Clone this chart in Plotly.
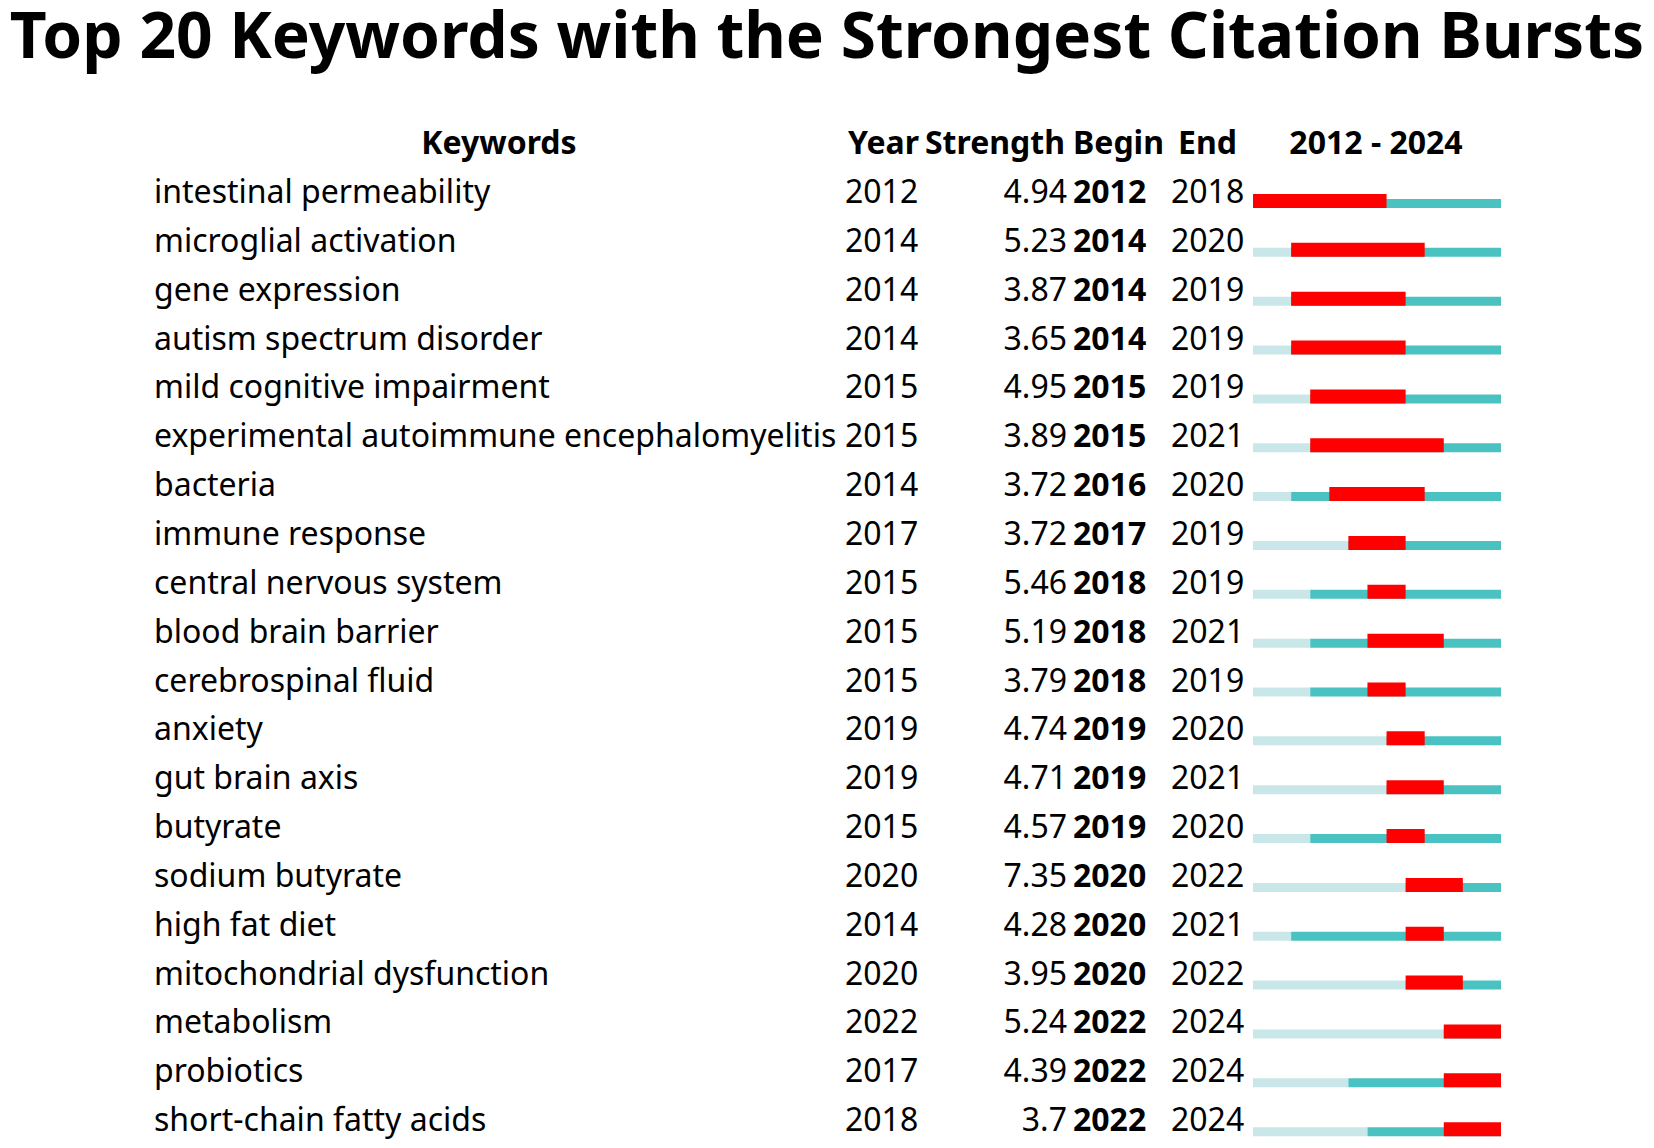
import plotly.graph_objects as go

# burst table data
keywords = [
    "intestinal permeability", "microglial activation", "gene expression",
    "autism spectrum disorder", "mild cognitive impairment",
    "experimental autoimmune encephalomyelitis", "bacteria", "immune response",
    "central nervous system", "blood brain barrier", "cerebrospinal fluid",
    "anxiety", "gut brain axis", "butyrate", "sodium butyrate", "high fat diet",
    "mitochondrial dysfunction", "metabolism", "probiotics", "short-chain fatty acids",
]
years = [2012, 2014, 2014, 2014, 2015, 2015, 2014, 2017, 2015, 2015,
         2015, 2019, 2019, 2015, 2020, 2014, 2020, 2022, 2017, 2018]
strengths = [4.94, 5.23, 3.87, 3.65, 4.95, 3.89, 3.72, 3.72, 5.46, 5.19,
             3.79, 4.74, 4.71, 4.57, 7.35, 4.28, 3.95, 5.24, 4.39, 3.7]
begins = [2012, 2014, 2014, 2014, 2015, 2015, 2016, 2017, 2018, 2018,
          2018, 2019, 2019, 2019, 2020, 2020, 2020, 2022, 2022, 2022]
ends = [2018, 2020, 2019, 2019, 2019, 2021, 2020, 2019, 2019, 2021,
        2019, 2020, 2021, 2020, 2022, 2021, 2022, 2024, 2024, 2024]
first_year, last_year = 2012, 2024

headers = ["Keywords", "Year", "Strength", "Begin", "End",
           "%d - %d" % (first_year, last_year)]

# page is 1654x1148, plot div sits inside the 8px body margin
W, H, PAD = 1654, 1148, 8
PW, PH = W - 2 * PAD, H - 2 * PAD
row0_px, row_px = 195, 48.85   # page y of first row, row pitch
rows = list(range(len(keywords)))

FONT = "Noto Sans"
FS = 32
LIGHT = "#C9E7E9"
TEAL = "#4BC2C2"
RED = "#FF0000"

fig = go.Figure()

# timeline bars (light = before keyword appears, teal = present, red = burst)
fig.add_trace(go.Bar(
    orientation="h", y=rows, base=[first_year] * len(rows),
    x=[y - first_year for y in years],
    width=9 / row_px, offset=4 / row_px, cliponaxis=False,
    marker=dict(color=LIGHT, line=dict(width=0)),
))
fig.add_trace(go.Bar(
    orientation="h", y=rows, base=years,
    x=[last_year + 1 - y for y in years],
    width=9 / row_px, offset=4 / row_px, cliponaxis=False,
    marker=dict(color=TEAL, line=dict(width=0)),
))
fig.add_trace(go.Bar(
    orientation="h", y=rows, base=begins,
    x=[e - b + 1 for b, e in zip(begins, ends)],
    width=14 / row_px, offset=-1 / row_px, cliponaxis=False,
    marker=dict(color=RED, line=dict(width=0)),
))


def col(texts, xpx, pos="middle right", bold=False):
    fig.add_trace(go.Scatter(
        x=[xpx] * len(texts), y=rows,
        mode="text", text=texts, textposition=pos,
        textfont=dict(family=FONT, size=FS, color="black",
                      weight="bold" if bold else "normal"),
        xaxis="x2", yaxis="y", cliponaxis=False,
    ))


col(keywords, 154)
col([str(y) for y in years], 845)
col([str(s) for s in strengths], 1067, pos="middle left")
col([str(b) for b in begins], 1073, bold=True)
col([str(e) for e in ends], 1171)

# header row sits one row above the first keyword
hdr_x = [499, 848, 995, 1073, 1178, 1376]
hdr_pos = ["middle center", "middle right", "middle center",
           "middle right", "middle right", "middle center"]
for h, hx, hp in zip(headers, hdr_x, hdr_pos):
    fig.add_trace(go.Scatter(
        x=[hx], y=[-1], mode="text", text=[h], textposition=hp,
        textfont=dict(family=FONT, size=FS, color="black", weight="bold"),
        xaxis="x2", yaxis="y", cliponaxis=False,
    ))

fig.update_layout(
    title=dict(text="<b>Top 20 Keywords with the Strongest Citation Bursts</b>",
               x=0.5, xanchor="center", y=1 - (35.5 - PAD) / PH, yanchor="middle",
               font=dict(family=FONT, size=64, color="black")),
    margin=dict(l=0, r=0, t=0, b=0),
    paper_bgcolor="white", plot_bgcolor="rgba(0,0,0,0)",
    showlegend=False, barmode="overlay", hovermode=False,
    xaxis=dict(domain=[(1253 - PAD) / PW, (1501 - PAD) / PW],
               range=[first_year, last_year + 1],
               visible=False, fixedrange=True),
    xaxis2=dict(domain=[0, 1], range=[PAD, W - PAD], visible=False, anchor="y",
                fixedrange=True),
    yaxis=dict(domain=[0, 1], visible=False, fixedrange=True,
               range=[(H - PAD - row0_px) / row_px, (PAD - row0_px) / row_px]),
)

fig.write_html("out.html")
